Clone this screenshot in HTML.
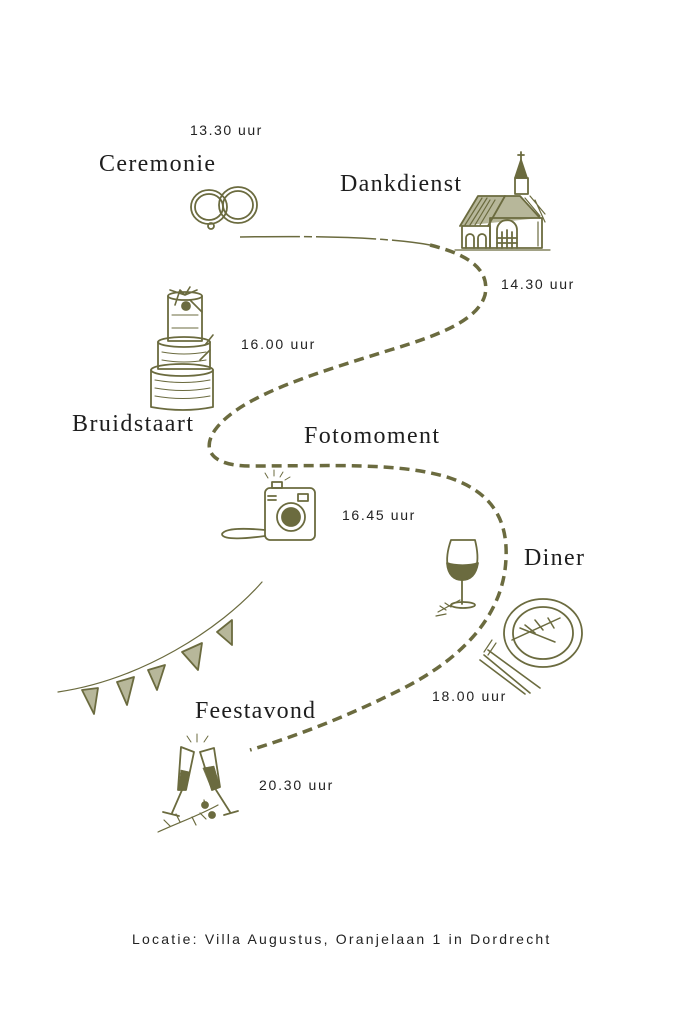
<!DOCTYPE html>
<html><head><meta charset="utf-8"><style>
html,body{margin:0;padding:0;background:#fff;}
svg{display:block}
.t{font-family:"Liberation Serif",serif;font-size:24px;fill:#1e1e1e}
.s{font-family:"Liberation Sans",sans-serif;font-size:14px;fill:#222;letter-spacing:1.7px}
.ic{fill:none;stroke:#6b6b3f;stroke-width:1.8;stroke-linecap:round;stroke-linejoin:round}
.f{fill:#6b6b3f}
.h{fill:#b7b79a;stroke:none}
</style></head><body>
<svg width="683" height="1024" viewBox="0 0 683 1024" xmlns="http://www.w3.org/2000/svg">
<!-- path -->
<path d="M240 237 C300 236 380 236 430 245" fill="none" stroke="#6b6b3f" stroke-width="1.5" stroke-dasharray="60 4 8 4"/>
<path d="M430 245 C470 255 490 270 485 295 C478 320 440 335 390 350 C320 372 240 395 215 430 C200 452 215 466 250 466 C330 466 400 462 450 478 C500 495 510 530 505 570 C498 620 460 660 400 690 C350 715 300 735 250 750" fill="none" stroke="#6b6b3f" stroke-width="3.5" stroke-dasharray="10 6"/>

<!-- labels -->
<text class="s" x="190" y="135" textLength="73">13.30 uur</text>
<text class="t" x="99" y="171" textLength="116">Ceremonie</text>
<text class="t" x="340" y="191" textLength="121">Dankdienst</text>
<text class="s" x="501" y="289" textLength="74">14.30 uur</text>
<text class="s" x="241" y="349" textLength="75">16.00 uur</text>
<text class="t" x="72" y="431" textLength="121">Bruidstaart</text>
<text class="t" x="304" y="443" textLength="135">Fotomoment</text>
<text class="s" x="342" y="520" textLength="74">16.45 uur</text>
<text class="t" x="524" y="565" textLength="60">Diner</text>
<text class="s" x="432" y="701" textLength="75">18.00 uur</text>
<text class="t" x="195" y="718" textLength="120">Feestavond</text>
<text class="s" x="259" y="790" textLength="75">20.30 uur</text>
<text class="s" x="132" y="944" textLength="419">Locatie: Villa Augustus, Oranjelaan 1 in Dordrecht</text>

<!-- rings -->
<g class="ic"><ellipse cx="209" cy="207" rx="18" ry="17"/><ellipse cx="209" cy="207" rx="14" ry="13"/><ellipse cx="238" cy="205" rx="19" ry="18"/><ellipse cx="238" cy="205" rx="15" ry="14"/><circle cx="211" cy="226" r="3"/></g>

<!-- church -->
<g class="ic">
<path d="M521 152 v8 M518 155 h6"/><path d="M515 178 L521 160 L527 178 Z" class="f"/><rect x="515" y="178" width="13" height="16"/>
<path d="M460 226 L478 196 L520 196 L540 218 Z" class="h"/>
<path d="M460 226 L478 196 L520 196 L540 218"/><path d="M488 226 L505 196" />
<rect x="462" y="226" width="28" height="22"/><rect x="490" y="218" width="52" height="30"/>
<path d="M497 248 v-18 a10 10 0 0 1 20 0 v18"/><path d="M502 232 v16 M507 230 v18 M512 232 v16 M497 238 h20 M497 243 h20"/>
<path d="M466 248 v-10 a4 4 0 0 1 8 0 v10 M478 248 v-10 a4 4 0 0 1 8 0 v10"/>
<path d="M465 225 L482 198 M470 225 L487 198 M475 225 L490 200 M480 225 L495 200 M525 198 L540 216 M530 196 L545 214 M535 200 L545 222 M538 222 v24" stroke-width="1.2"/>
<path d="M455 250 h95" stroke-width="1.2"/>
</g>

<!-- cake -->
<g class="ic">
<path d="M168 296 v45 h34 v-45" /><ellipse cx="185" cy="296" rx="17" ry="4"/>
<path d="M158 342 v27 h52 v-27"/><ellipse cx="184" cy="342" rx="26" ry="5"/>
<path d="M151 370 v37 q33 6 62 0 v-37"/><ellipse cx="182" cy="370" rx="31" ry="6"/>
<path d="M155 380 q28 5 55 0 M155 388 q28 5 55 0 M155 396 q28 5 55 0 M162 352 q22 4 44 0 M162 360 q22 4 44 0 M172 315 h26 M172 328 h26" stroke-width="1.1"/>
<path d="M185 295 L180 290 L175 305 M185 295 l5 -8 M185 295 l12 -5 M185 295 l-15 -5 M190 300 l12 12 M205 345 l8 -10 M200 360 l10 -10" stroke-width="1.6"/>
<circle cx="186" cy="306" r="4" class="f"/>
</g>

<!-- camera -->
<g class="ic">
<rect x="265" y="488" width="50" height="52" rx="5"/><rect x="272" y="482" width="10" height="6"/>
<circle cx="291" cy="517" r="14"/><circle cx="291" cy="517" r="9" class="f"/>
<rect x="298" y="494" width="10" height="7"/><path d="M268 496 h8 M268 500 h8"/>
<path d="M265 530 C245 528 225 528 222 534 C222 541 250 538 265 536"/>
<path d="M268 478 l-3 -5 M274 476 l0 -6 M280 477 l3 -5 M285 480 l5 -3" stroke-width="1"/>
</g>

<!-- wine -->
<g class="ic">
<path d="M451 540 h24 C480 560 478 578 462 580 C446 578 444 560 451 540 Z"/>
<path d="M447 563 C455 566 470 566 478 563 C476 575 470 580 462 580 C454 580 448 575 447 563 Z" class="f"/>
<path d="M462 580 v24"/><ellipse cx="463" cy="605" rx="12" ry="3"/>
<path d="M438 612 L460 600 M440 606 l6 4 M445 603 l6 4 M436 616 l10 -2" stroke-width="1.2"/>
</g>

<!-- plate -->
<g class="ic">
<ellipse cx="543" cy="633" rx="39" ry="34"/><ellipse cx="543" cy="633" rx="30" ry="26"/>
<path d="M512 640 L560 618 M520 628 L555 642 M525 625 l10 8 M535 620 l8 10 M548 618 l6 10" stroke-width="1.5"/>
<path d="M488 650 L540 688 M484 655 L530 693 M480 660 L525 694" stroke-width="1.6"/>
<path d="M492 640 l-8 12 M496 643 l-8 12" stroke-width="1.2"/>
</g>

<!-- bunting -->
<g class="ic">
<path d="M262 582 C220 630 140 680 58 692" stroke-width="1.2"/>
<path d="M82 690 L94 714 L98 688 Z" class="h"/><path d="M117 682 L127 705 L134 677 Z" class="h"/><path d="M148 670 L157 690 L165 665 Z" class="h"/><path d="M182 652 L198 670 L202 643 Z" class="h"/><path d="M217 632 L232 645 L232 620 Z" class="h"/>
<path d="M82 690 L94 714 L98 688 Z"/><path d="M117 682 L127 705 L134 677 Z"/><path d="M148 670 L157 690 L165 665 Z"/><path d="M182 652 L198 670 L202 643 Z"/><path d="M217 632 L232 645 L232 620 Z"/>
</g>

<!-- champagne -->
<g class="ic">
<path d="M181 747 L194 752 L186 790 L178 790 Z"/><path d="M182 790 L172 813"/><path d="M163 812 l16 4"/>
<path d="M200 752 L214 748 L220 787 L212 790 Z"/><path d="M216 790 L230 812"/><path d="M224 815 l14 -4"/>
<path d="M181 770 L190 772 L186 790 L178 790 Z M203 768 L214 766 L220 787 L212 790 Z" class="f" stroke-width="0.5"/>
<path d="M197 742 v-8 M191 742 l-4 -6 M204 742 l4 -6" stroke-width="1"/>
<path d="M158 832 C180 822 200 815 218 805 M170 826 l-6 -6 M180 822 l-4 -8 M192 817 l4 8 M200 813 l6 6 M206 808 l-2 -8" stroke-width="1.2"/>
<circle cx="205" cy="805" r="3" class="f"/><circle cx="212" cy="815" r="3" class="f"/>
</g>
</svg>
</body></html>
